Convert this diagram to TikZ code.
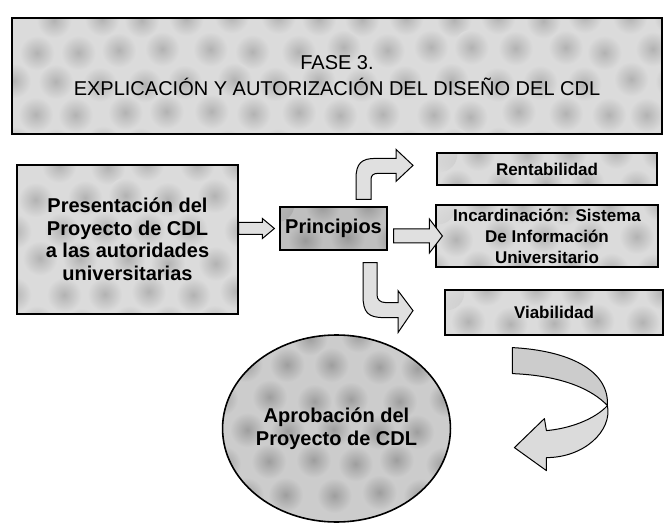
\documentclass[tikz,border=0pt]{standalone}
\usepackage{fontspec}
\setmainfont{Liberation Sans}
\usetikzlibrary{
    calc,
    shapes.geometric,
}

\begin{document}
\begin{tikzpicture}[
    x=1pt, y=-1pt,
    mottle/.style n args={2}{fill=#2, path picture={
        \foreach \i in {0,...,15} \foreach \j in {0,...,5} {
            \shade[inner color=#1, outer color=#2]
                ($(path picture bounding box.north west)
                + ({\i*44+mod(\j,2)*22+rand*4},{\j*32+rand*3})$) circle (17.5);
        }}},
    box/.style={draw, line width=1.2pt, mottle={black!30}{black!14},
    align=center, inner sep=0pt, font=\bfseries\fontsize{20}{22.5}\selectfont},
    small/.style={font=\bfseries\fontsize{17}{21}\selectfont},
    blockarrow/.style={draw, line width=1pt, fill=black!12, line join=miter},
    ribbon/.style={draw, line width=1pt, fill=black!20, line join=round},
]

\pgfmathsetseed{7}
\useasboundingbox (0,0) rectangle (668,526);

% TITLE
\node[box, minimum width=650, minimum height=116,
    font=\fontsize{20}{26}\selectfont] at (337,76) (title)
    {FASE 3.\\EXPLICACIÓN Y AUTORIZACIÓN DEL DISEÑO DEL CDL};

% PRESENTACION
\node[box, minimum width=221, minimum height=149] at (127.5,239.5) (pres)
    {Presentación del\\Proyecto de CDL\\a las autoridades\\universitarias};

% PRINCIPIOS
\node[box, mottle={black!40}{black!25}, minimum width=107, minimum height=43]
    at (333.5,228.5) (princ) {Principios};

% RIGHT COLUMN
\node[box, small, minimum width=220, minimum height=32] at (547,169) (rent)
    {Rentabilidad};
\node[box, small, minimum width=222, minimum height=62] at (547,236) (incard)
    {Incardinación: Sistema\\De Información\\Universitario};
\node[box, small, minimum width=218, minimum height=45] at (554,312.5) (viab)
    {Viabilidad};

% APROBACION
\node[box, ellipse, line width=1.6pt, mottle={black!38}{black!20},
    minimum width=223, minimum height=187] at (336.5,428.5) (aprob)
    {Aprobación del\\Proyecto de CDL};

% ARROW PRES -> PRINCIPIOS
\coordinate (a1s) at (pres.east |- princ.west);
\coordinate (a1e) at ($(princ.west)+(-5,0)$);
\draw[blockarrow] ($(a1s)+(0,-6)$) -- ($(a1e)+(-12,-6)$) -- ($(a1e)+(-12,-10)$)
    -- (a1e) -- ($(a1e)+(-12,10)$) -- ($(a1e)+(-12,6)$) -- ($(a1s)+(0,6)$)
    -- cycle;

% ARROW PRINCIPIOS -> INCARDINACION
\coordinate (a2s) at ($(princ.east |- incard.west)+(6,0)$);
\coordinate (a2e) at ($(incard.west)+(7,0)$);
\draw[blockarrow] ($(a2s)+(0,-7)$) -- ($(a2e)+(-13,-7)$) -- ($(a2e)+(-13,-17)$)
    -- (a2e) -- ($(a2e)+(-13,17)$) -- ($(a2e)+(-13,7)$) -- ($(a2s)+(0,7)$)
    -- cycle;

% ARROW PRINCIPIOS -> RENTABILIDAD
\coordinate (a3s) at ($(princ.north)+(30,-7)$);
\draw[blockarrow, shift={(a3s)}] (-7.5,0) -- (-7.5,-21)
    .. controls (-7.5,-36) and (-2,-41) .. (12,-41) -- (32.5,-41)
    -- (32.5,-50) -- (49.5,-34) -- (32.5,-18) -- (32.5,-26) -- (14,-26)
    .. controls (10,-26) and (7.5,-24) .. (7.5,-20) -- (7.5,0) -- cycle;

% ARROW PRINCIPIOS -> VIABILIDAD
\coordinate (a4s) at ($(princ.south)+(36.5,12)$);
\draw[blockarrow, shift={(a4s)}] (-7,0) -- (-7,33)
    .. controls (-7,50) and (-2,55) .. (14,55) -- (28,55)
    -- (28,70) -- (43,48) -- (28,28) -- (28,40) -- (16,40)
    .. controls (10,40) and (7,37) .. (7,32) -- (7,0) -- cycle;

% ARROW VIABILIDAD -> APROBACION
\coordinate (a5s) at ($(viab.south west)+(68,12)$);
\draw[ribbon, shift={(a5s)}] (0,0) .. controls (57,3) and (97,23) .. (95,58)
    .. controls (80,42) and (50,28) .. (0,26) -- cycle;
\draw[ribbon, fill=black!14, shift={(a5s)}] (95,58)
    .. controls (100,83) and (72,110) .. (34,110) -- (34,123) -- (2,100)
    -- (32,71) -- (34,83) .. controls (57,81) and (82,72) .. (95,58) -- cycle;

\end{tikzpicture}
\end{document}
